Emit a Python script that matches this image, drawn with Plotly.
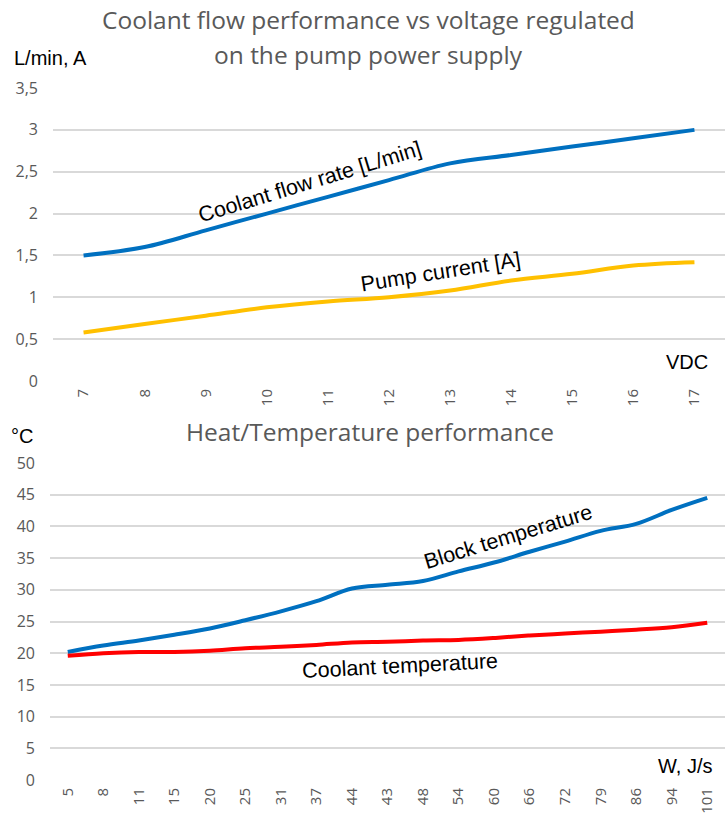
import plotly.graph_objects as go

# ---- data ----
voltage = ["7", "8", "9", "10", "11", "12", "13", "14", "15", "16", "17"]
flow_rate = [1.5, 1.6, 1.8, 2.0, 2.2, 2.4, 2.6, 2.7, 2.8, 2.9, 3.0]
pump_current = [0.58, 0.68, 0.78, 0.88, 0.95, 1.0, 1.08, 1.2, 1.28, 1.38, 1.42]

power = ["5", "8", "11", "15", "20", "25", "31", "37", "44", "43", "48",
         "54", "60", "66", "72", "79", "86", "94", "101"]
block_temp = [20.2, 21.2, 22.0, 22.9, 23.9, 25.2, 26.6, 28.2, 30.2, 30.8, 31.4,
              32.9, 34.3, 36.0, 37.6, 39.3, 40.4, 42.6, 44.5]
coolant_temp = [19.6, 20.0, 20.2, 20.2, 20.4, 20.8, 21.0, 21.3, 21.7, 21.8, 22.0,
                22.1, 22.4, 22.8, 23.1, 23.4, 23.7, 24.1, 24.8]

W, H = 728, 823
def py(y):
    return 1 - y / H
def px(x):
    return x / W

GRID = "#d9d9d9"
TICK = "#595959"
fig = go.Figure()

fig.add_trace(go.Scatter(x=voltage, y=flow_rate, mode="lines", line=dict(color="#0070C0", width=4, shape="spline"),
                         xaxis="x", yaxis="y", showlegend=False))
fig.add_trace(go.Scatter(x=voltage, y=pump_current, mode="lines", line=dict(color="#FFC000", width=4, shape="spline"),
                         xaxis="x", yaxis="y", showlegend=False))
fig.add_trace(go.Scatter(x=power, y=block_temp, mode="lines", line=dict(color="#0070C0", width=4, shape="spline"),
                         xaxis="x2", yaxis="y2", showlegend=False))
fig.add_trace(go.Scatter(x=power, y=coolant_temp, mode="lines", line=dict(color="#FF0000", width=4, shape="spline"),
                         xaxis="x2", yaxis="y2", showlegend=False))

tickfont = dict(family="Open Sans, Lato, sans-serif", size=16, color=TICK)
xtickfont = dict(family="Open Sans, Lato, sans-serif", size=15, color=TICK)

fig.update_layout(
    width=W, height=H,
    margin=dict(l=0, r=0, t=0, b=0, autoexpand=False),
    paper_bgcolor="white", plot_bgcolor="white",
    separators=", ",
    xaxis=dict(domain=[px(53), px(725)], anchor="y", type="category", range=[-0.5, 10.5],
               showgrid=False, zeroline=False, showline=False, ticks="", tickangle=-90,
               tickfont=xtickfont, automargin=False, ticklabelstandoff=4),
    yaxis=dict(domain=[py(381), py(88)], anchor="x", range=[0, 3.5], dtick=0.5,
               showgrid=True, gridcolor=GRID, gridwidth=2, zeroline=False, showline=False,
               tickfont=tickfont, ticks="", ticklabelstandoff=14, automargin=False),
    xaxis2=dict(domain=[px(50), px(725)], anchor="y2", type="category", range=[-0.5, 18.5],
                showgrid=False, zeroline=False, showline=False, ticks="", tickangle=-90,
                tickfont=xtickfont, automargin=False, ticklabelstandoff=4),
    yaxis2=dict(domain=[py(780), py(463)], anchor="x2", range=[0, 50], dtick=5,
                showgrid=True, gridcolor=GRID, gridwidth=2, zeroline=False, showline=False,
                tickfont=tickfont, ticks="", ticklabelstandoff=14, automargin=False),
)

lbl = dict(family="Liberation Sans, Arial, sans-serif", size=20, color="black")
lbl2 = dict(family="Liberation Sans, Arial, sans-serif", size=21.5, color="black")
ttl = dict(family="Open Sans, Lato, sans-serif", size=24.5, color=TICK)

anns = [
    dict(text="Coolant flow performance vs voltage regulated", x=px(368), y=py(20), font=ttl),
    dict(text="on the pump power supply", x=px(368), y=py(54), font=ttl),
    dict(text="Heat/Temperature performance", x=px(370), y=py(431), font=ttl),
    dict(text="L/min, A", x=px(50), y=py(58), font=lbl),
    dict(text="VDC", x=px(687), y=py(362), font=lbl),
    dict(text="°C", x=px(22), y=py(436), font=lbl),
    dict(text="W, J/s", x=px(685), y=py(766), font=lbl),
    dict(text="Coolant flow rate [L/min]", x=px(310), y=py(182), font=lbl2, textangle=-17),
    dict(text="Pump current [A]", x=px(440), y=py(272), font=lbl2, textangle=-9),
    dict(text="Block temperature", x=px(508), y=py(537), font=lbl2, textangle=-17),
    dict(text="Coolant temperature", x=px(400), y=py(666), font=lbl2, textangle=-3),
]
for a in anns:
    a.update(xref="paper", yref="paper", showarrow=False, xanchor="center", yanchor="middle")
fig.update_layout(annotations=anns)

fig.write_html("out.html", config={"displayModeBar": False},
               post_script="document.body.style.margin='0px';")
